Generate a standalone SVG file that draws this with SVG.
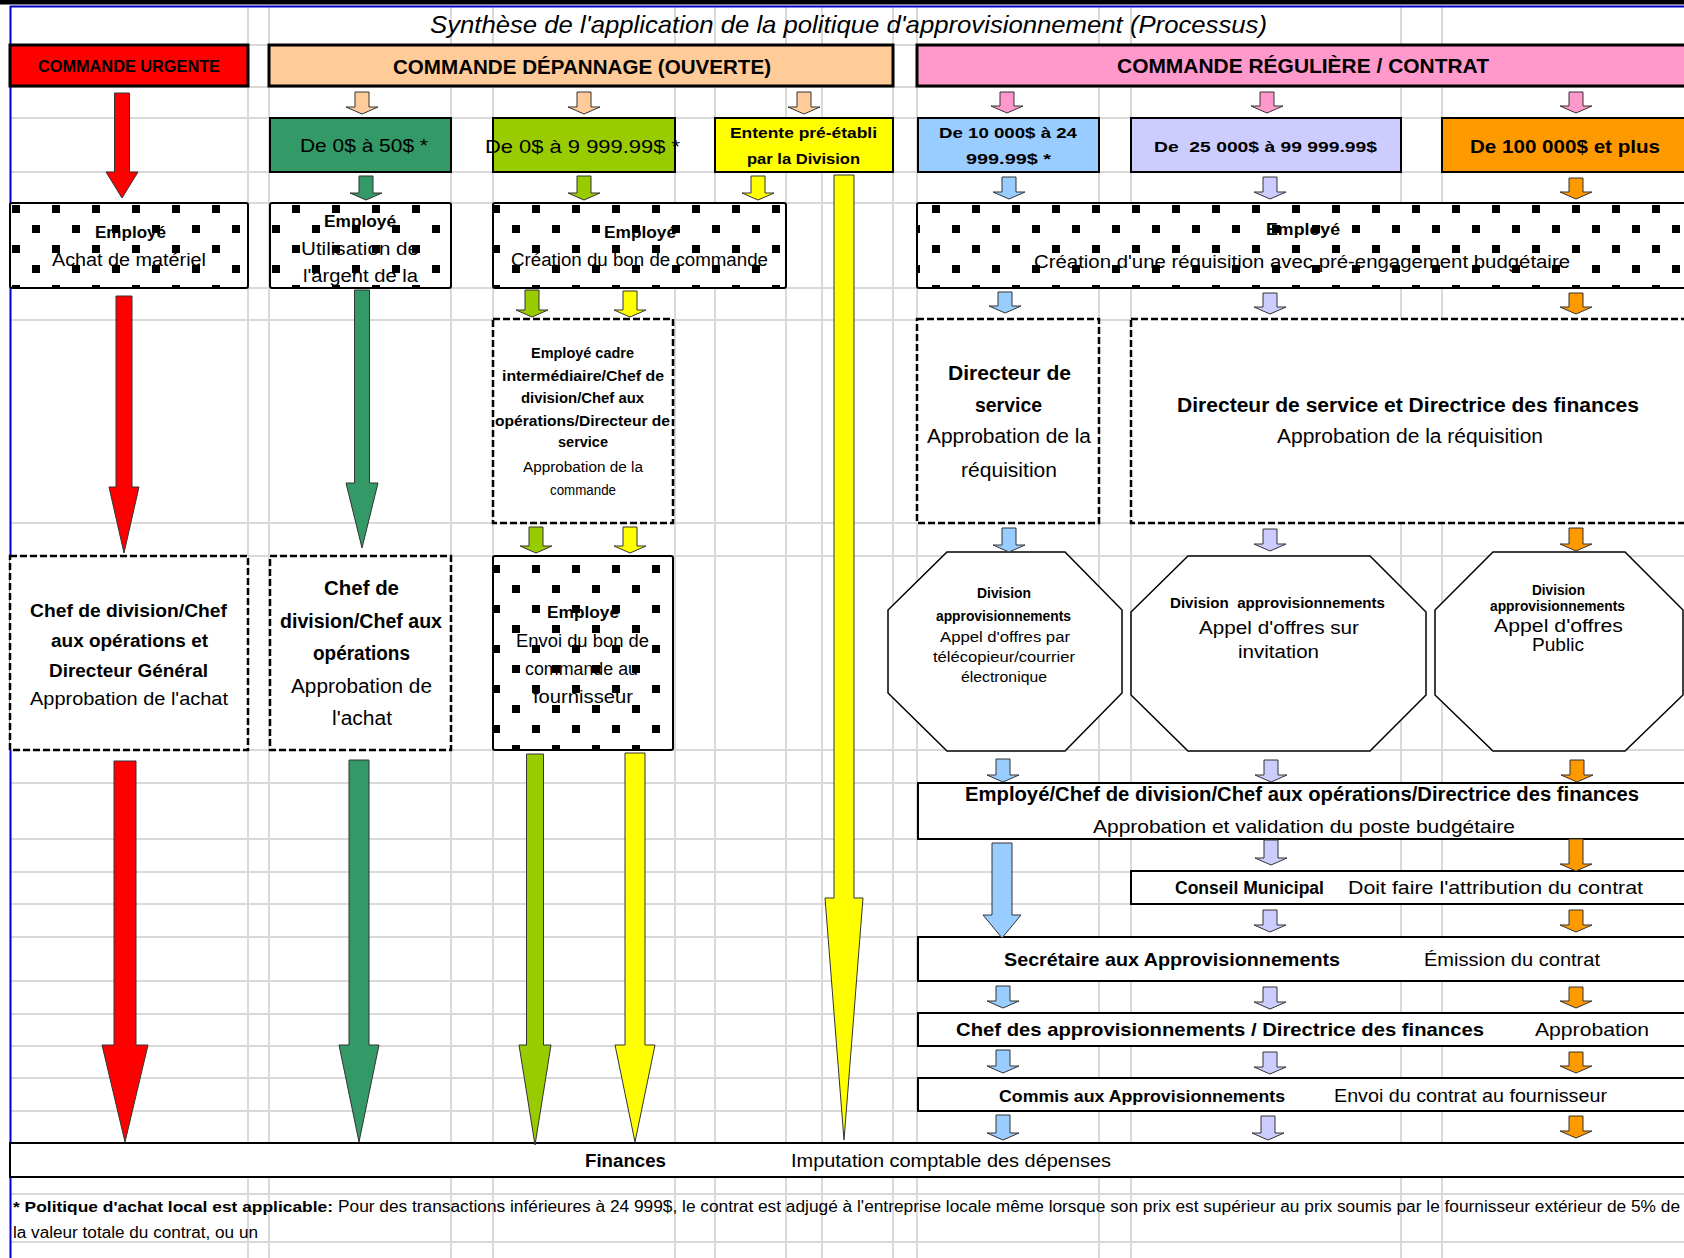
<svg xmlns="http://www.w3.org/2000/svg" width="1684" height="1258" viewBox="0 0 1684 1258">
<style>
.t{font-family:"Liberation Sans",Arial,sans-serif;fill:#000}
.b{font-weight:bold}
.grid line{stroke:#D9D9D9;stroke-width:2}
.hdr{stroke:#000;stroke-width:3}
.val{stroke:#000;stroke-width:2}
.box{fill:#fff;stroke:#000;stroke-width:2}
.dash{fill:#fff;stroke:#000;stroke-width:2.5;stroke-dasharray:7 3}
.chk{fill:url(#chk);stroke:#000;stroke-width:2}
.oct{fill:#fff;stroke:#000;stroke-width:1.5}
.a{stroke:#333;stroke-width:1;stroke-linejoin:miter}
.pe{fill:#FFCC99}.pk{fill:#FF99CC}.rd{fill:#FF0000}.gn{fill:#339966}.li{fill:#99CC00}.ye{fill:#FFFF00}.bl{fill:#99CCFF}.lv{fill:#CCCCFF}.or{fill:#FF9900}
</style>
<defs>
<pattern id="chk" patternUnits="userSpaceOnUse" x="12" y="5" width="40" height="40">
<rect width="40" height="40" fill="#fff"/>
<rect width="8" height="8" fill="#000"/>
<rect x="20" y="20" width="8" height="8" fill="#000"/>
</pattern>
</defs>
<rect width="1684" height="1258" fill="#fff"/>
<g class="grid">
<line x1="248" y1="7" x2="248" y2="1258"/><line x1="269" y1="7" x2="269" y2="1258"/>
<line x1="451" y1="7" x2="451" y2="1258"/><line x1="493" y1="7" x2="493" y2="1258"/>
<line x1="675" y1="7" x2="675" y2="1258"/><line x1="715" y1="7" x2="715" y2="1258"/>
<line x1="786" y1="7" x2="786" y2="1258"/><line x1="822" y1="7" x2="822" y2="1258"/>
<line x1="893" y1="7" x2="893" y2="1258"/><line x1="917" y1="7" x2="917" y2="1258"/>
<line x1="1099" y1="7" x2="1099" y2="1258"/><line x1="1131" y1="7" x2="1131" y2="1258"/>
<line x1="1401" y1="7" x2="1401" y2="1258"/><line x1="1442" y1="7" x2="1442" y2="1258"/>
<line x1="10" y1="45" x2="1684" y2="45"/><line x1="10" y1="87" x2="1684" y2="87"/>
<line x1="10" y1="118" x2="1684" y2="118"/><line x1="10" y1="172" x2="1684" y2="172"/>
<line x1="10" y1="203" x2="1684" y2="203"/><line x1="10" y1="288" x2="1684" y2="288"/>
<line x1="10" y1="320" x2="1684" y2="320"/><line x1="10" y1="523" x2="1684" y2="523"/>
<line x1="10" y1="556" x2="1684" y2="556"/><line x1="10" y1="750" x2="1684" y2="750"/>
<line x1="10" y1="783" x2="1684" y2="783"/><line x1="10" y1="839" x2="1684" y2="839"/>
<line x1="10" y1="872" x2="1684" y2="872"/><line x1="10" y1="904" x2="1684" y2="904"/>
<line x1="10" y1="937" x2="1684" y2="937"/><line x1="10" y1="981" x2="1684" y2="981"/>
<line x1="10" y1="1014" x2="1684" y2="1014"/><line x1="10" y1="1046" x2="1684" y2="1046"/>
<line x1="10" y1="1078" x2="1684" y2="1078"/><line x1="10" y1="1111" x2="1684" y2="1111"/>
<line x1="10" y1="1143" x2="1684" y2="1143"/><line x1="10" y1="1177" x2="1684" y2="1177"/>
<line x1="10" y1="1194" x2="1684" y2="1194"/><line x1="10" y1="1242" x2="1684" y2="1242"/>
</g>
<g id="frame">
<rect x="0" y="0" width="1684" height="4.5" fill="#000"/>
<line x1="10" y1="6.5" x2="1684" y2="6.5" stroke="#0000CC" stroke-width="2"/>
<line x1="10.5" y1="6" x2="10.5" y2="1258" stroke="#0000CC" stroke-width="2"/>
</g>
<g id="title"><text class="t" x="430" y="33" font-size="24" font-style="italic" textLength="837" lengthAdjust="spacingAndGlyphs">Synthèse de l'application de la politique d'approvisionnement (Processus)</text></g>

<g id="hdr-urgente"><rect class="hdr rd" x="10" y="45" width="238" height="41"/><text class="t b" x="38" y="72" font-size="17" textLength="182" lengthAdjust="spacingAndGlyphs">COMMANDE URGENTE</text></g>
<g id="hdr-depannage"><rect class="hdr pe" x="269" y="45" width="624" height="41"/><text class="t b" x="393" y="74" font-size="20" textLength="378" lengthAdjust="spacingAndGlyphs">COMMANDE DÉPANNAGE (OUVERTE)</text></g>
<g id="hdr-reguliere"><rect class="hdr pk" x="917" y="45" width="790" height="41"/><text class="t b" x="1117" y="73" font-size="20" textLength="372" lengthAdjust="spacingAndGlyphs">COMMANDE RÉGULIÈRE / CONTRAT</text></g>

<g id="v-0-50"><rect class="val gn" x="270" y="118" width="181" height="54"/><text class="t" x="300" y="152" font-size="19" textLength="128" lengthAdjust="spacingAndGlyphs">De 0$ à 50$ *</text></g>
<g id="v-0-9999"><rect class="val li" x="493" y="118" width="182" height="54"/><text class="t" x="485" y="153" font-size="19" textLength="195" lengthAdjust="spacingAndGlyphs">De 0$ à 9 999.99$ *</text></g>
<g id="v-entente"><rect class="val ye" x="715" y="118" width="178" height="54"/><text class="t b" x="730" y="138" font-size="15" textLength="147" lengthAdjust="spacingAndGlyphs">Entente pré-établi</text><text class="t b" x="747" y="164" font-size="15" textLength="113" lengthAdjust="spacingAndGlyphs">par la Division</text></g>
<g id="v-10000"><rect class="val bl" x="918" y="118" width="181" height="54"/><text class="t b" x="939" y="138" font-size="15" textLength="138" lengthAdjust="spacingAndGlyphs">De 10 000$ à 24</text><text class="t b" x="966" y="164" font-size="15" textLength="85" lengthAdjust="spacingAndGlyphs">999.99$ *</text></g>
<g id="v-25000"><rect class="val lv" x="1131" y="118" width="270" height="54"/><text class="t b" x="1154" y="152" font-size="15" textLength="223" lengthAdjust="spacingAndGlyphs" xml:space="preserve">De  25 000$ à 99 999.99$</text></g>
<g id="v-100000"><rect class="val or" x="1442" y="118" width="270" height="54"/><text class="t b" x="1470" y="153" font-size="19" textLength="190" lengthAdjust="spacingAndGlyphs">De 100 000$ et plus</text></g>

<g id="emp-achat"><rect class="chk" x="10" y="203" width="238" height="85" rx="2"/><text class="t b" x="95" y="238" font-size="16" textLength="71" lengthAdjust="spacingAndGlyphs">Employé</text><text class="t" x="52" y="266" font-size="18" textLength="154" lengthAdjust="spacingAndGlyphs">Achat de matériel</text></g>
<g id="emp-argent"><rect class="chk" x="270" y="203" width="181" height="85" rx="2"/><text class="t b" x="324" y="227" font-size="16" textLength="72" lengthAdjust="spacingAndGlyphs">Employé</text><text class="t" x="301" y="255" font-size="18" textLength="118" lengthAdjust="spacingAndGlyphs">Utilisation de</text><text class="t" x="303" y="282" font-size="18" textLength="115" lengthAdjust="spacingAndGlyphs">l'argent de la</text></g>
<g id="emp-bon"><rect class="chk" x="493" y="203" width="293" height="85" rx="2"/><text class="t b" x="604" y="238" font-size="16" textLength="72" lengthAdjust="spacingAndGlyphs">Employé</text><text class="t" x="511" y="266" font-size="18" textLength="257" lengthAdjust="spacingAndGlyphs">Création du bon de commande</text></g>
<g id="emp-requisition"><rect class="chk" x="917" y="203" width="790" height="85" rx="2"/><text class="t b" x="1266" y="235" font-size="16" textLength="74" lengthAdjust="spacingAndGlyphs">Employé</text><text class="t" x="1034" y="268" font-size="18" textLength="536" lengthAdjust="spacingAndGlyphs">Création d'une réquisition avec pré-engagement budgétaire</text></g>

<g id="cadre"><rect class="dash" x="493" y="319" width="180" height="204"/>
<text class="t b" x="531" y="358" font-size="14" textLength="103" lengthAdjust="spacingAndGlyphs">Employé cadre</text>
<text class="t b" x="502" y="381" font-size="14" textLength="162" lengthAdjust="spacingAndGlyphs">intermédiaire/Chef de</text>
<text class="t b" x="521" y="403" font-size="14" textLength="123" lengthAdjust="spacingAndGlyphs">division/Chef aux</text>
<text class="t b" x="495" y="426" font-size="14" textLength="175" lengthAdjust="spacingAndGlyphs">opérations/Directeur de</text>
<text class="t b" x="558" y="447" font-size="14" textLength="50" lengthAdjust="spacingAndGlyphs">service</text>
<text class="t" x="523" y="472" font-size="14" textLength="120" lengthAdjust="spacingAndGlyphs">Approbation de la</text>
<text class="t" x="550" y="495" font-size="14" textLength="66" lengthAdjust="spacingAndGlyphs">commande</text></g>

<g id="dir-service"><rect class="dash" x="917" y="319" width="182" height="204"/>
<text class="t b" x="948" y="380" font-size="20" textLength="123" lengthAdjust="spacingAndGlyphs">Directeur de</text>
<text class="t b" x="975" y="412" font-size="20" textLength="67" lengthAdjust="spacingAndGlyphs">service</text>
<text class="t" x="927" y="443" font-size="20" textLength="164" lengthAdjust="spacingAndGlyphs">Approbation de la</text>
<text class="t" x="961" y="477" font-size="20" textLength="96" lengthAdjust="spacingAndGlyphs">réquisition</text></g>

<g id="dir-finances"><rect class="dash" x="1131" y="319" width="580" height="204"/>
<text class="t b" x="1177" y="412" font-size="20" textLength="462" lengthAdjust="spacingAndGlyphs">Directeur de service et Directrice des finances</text>
<text class="t" x="1277" y="443" font-size="20" textLength="266" lengthAdjust="spacingAndGlyphs">Approbation de la réquisition</text></g>

<g id="chef-urgente"><rect class="dash" x="10" y="556" width="238" height="194"/>
<text class="t b" x="30" y="617" font-size="18" textLength="197" lengthAdjust="spacingAndGlyphs">Chef de division/Chef</text>
<text class="t b" x="51" y="647" font-size="18" textLength="157" lengthAdjust="spacingAndGlyphs">aux opérations et</text>
<text class="t b" x="49" y="677" font-size="18" textLength="159" lengthAdjust="spacingAndGlyphs">Directeur Général</text>
<text class="t" x="30" y="705" font-size="18" textLength="198" lengthAdjust="spacingAndGlyphs">Approbation de l'achat</text></g>

<g id="chef-depannage"><rect class="dash" x="270" y="556" width="181" height="194"/>
<text class="t b" x="324" y="595" font-size="20" textLength="75" lengthAdjust="spacingAndGlyphs">Chef de</text>
<text class="t b" x="280" y="628" font-size="20" textLength="162" lengthAdjust="spacingAndGlyphs">division/Chef aux</text>
<text class="t b" x="313" y="660" font-size="20" textLength="97" lengthAdjust="spacingAndGlyphs">opérations</text>
<text class="t" x="291" y="693" font-size="20" textLength="141" lengthAdjust="spacingAndGlyphs">Approbation de</text>
<text class="t" x="332" y="725" font-size="20" textLength="60" lengthAdjust="spacingAndGlyphs">l'achat</text></g>

<g id="emp-envoi"><rect class="chk" x="493" y="556" width="180" height="194" rx="2"/>
<text class="t b" x="547" y="618" font-size="16" textLength="72" lengthAdjust="spacingAndGlyphs">Employé</text>
<text class="t" x="516" y="647" font-size="18" textLength="133" lengthAdjust="spacingAndGlyphs">Envoi du bon de</text>
<text class="t" x="525" y="675" font-size="18" textLength="113" lengthAdjust="spacingAndGlyphs">commande au</text>
<text class="t" x="533" y="703" font-size="18" textLength="100" lengthAdjust="spacingAndGlyphs">fournisseur</text></g>

<g id="oct-telecopieur"><polygon class="oct" points="947,552 1065,552 1122,610 1122,693 1065,751 947,751 888,693 888,610"/>
<text class="t b" x="977" y="598" font-size="14" textLength="54" lengthAdjust="spacingAndGlyphs">Division</text>
<text class="t b" x="936" y="621" font-size="14" textLength="135" lengthAdjust="spacingAndGlyphs">approvisionnements</text>
<text class="t" x="940" y="642" font-size="14" textLength="130" lengthAdjust="spacingAndGlyphs">Appel d'offres par</text>
<text class="t" x="933" y="662" font-size="14" textLength="142" lengthAdjust="spacingAndGlyphs">télécopieur/courrier</text>
<text class="t" x="961" y="682" font-size="14" textLength="86" lengthAdjust="spacingAndGlyphs">électronique</text></g>

<g id="oct-invitation"><polygon class="oct" points="1188,556 1370,556 1426,612 1426,695 1370,751 1188,751 1131,695 1131,612"/>
<text class="t b" x="1170" y="608" font-size="15" textLength="215" lengthAdjust="spacingAndGlyphs" xml:space="preserve">Division  approvisionnements</text>
<text class="t" x="1199" y="634" font-size="18" textLength="160" lengthAdjust="spacingAndGlyphs">Appel d'offres sur</text>
<text class="t" x="1238" y="658" font-size="18" textLength="81" lengthAdjust="spacingAndGlyphs">invitation</text></g>

<g id="oct-public"><polygon class="oct" points="1493,552 1625,552 1683,610 1683,695 1625,751 1493,751 1435,695 1435,610"/>
<text class="t b" x="1532" y="595" font-size="14" textLength="53" lengthAdjust="spacingAndGlyphs">Division</text>
<text class="t b" x="1490" y="611" font-size="14" textLength="135" lengthAdjust="spacingAndGlyphs">approvisionnements</text>
<text class="t" x="1494" y="632" font-size="18" textLength="129" lengthAdjust="spacingAndGlyphs">Appel d'offres</text>
<text class="t" x="1532" y="651" font-size="18" textLength="52" lengthAdjust="spacingAndGlyphs">Public</text></g>

<g id="validation"><rect class="box" x="918" y="783" width="790" height="56"/>
<text class="t b" x="965" y="801" font-size="20" textLength="674" lengthAdjust="spacingAndGlyphs">Employé/Chef de division/Chef aux opérations/Directrice des finances</text>
<text class="t" x="1093" y="833" font-size="19" textLength="422" lengthAdjust="spacingAndGlyphs">Approbation et validation du poste budgétaire</text></g>

<g id="conseil"><rect class="box" x="1131" y="871" width="580" height="33"/>
<text class="t b" x="1175" y="894" font-size="18" textLength="149" lengthAdjust="spacingAndGlyphs">Conseil Municipal</text>
<text class="t" x="1348" y="894" font-size="19" textLength="295" lengthAdjust="spacingAndGlyphs">Doit faire l'attribution du contrat</text></g>

<g id="secretaire"><rect class="box" x="918" y="937" width="790" height="44"/>
<text class="t b" x="1004" y="966" font-size="19" textLength="336" lengthAdjust="spacingAndGlyphs">Secrétaire aux Approvisionnements</text>
<text class="t" x="1424" y="966" font-size="19" textLength="176" lengthAdjust="spacingAndGlyphs">Émission du contrat</text></g>

<g id="chef-appro"><rect class="box" x="918" y="1013" width="790" height="33"/>
<text class="t b" x="956" y="1036" font-size="19" textLength="528" lengthAdjust="spacingAndGlyphs">Chef des approvisionnements / Directrice des finances</text>
<text class="t" x="1535" y="1036" font-size="19" textLength="114" lengthAdjust="spacingAndGlyphs">Approbation</text></g>

<g id="commis"><rect class="box" x="918" y="1078" width="790" height="33"/>
<text class="t b" x="999" y="1102" font-size="17" textLength="286" lengthAdjust="spacingAndGlyphs">Commis aux Approvisionnements</text>
<text class="t" x="1334" y="1102" font-size="18" textLength="273" lengthAdjust="spacingAndGlyphs">Envoi du contrat au fournisseur</text></g>

<g id="finances"><rect class="box" x="10" y="1143" width="1700" height="34"/>
<text class="t b" x="585" y="1167" font-size="18" textLength="81" lengthAdjust="spacingAndGlyphs">Finances</text>
<text class="t" x="791" y="1167" font-size="18" textLength="320" lengthAdjust="spacingAndGlyphs">Imputation comptable des dépenses</text></g>

<g id="footnote">
<text class="t b" x="13" y="1212" font-size="15" textLength="320" lengthAdjust="spacingAndGlyphs">* Politique d'achat local est applicable:</text>
<text class="t" x="338" y="1212" font-size="16" textLength="1342" lengthAdjust="spacingAndGlyphs">Pour des transactions inférieures à 24 999$, le contrat est adjugé à l'entreprise locale même lorsque son prix est supérieur au prix soumis par le fournisseur extérieur de 5% de</text>
<text class="t" x="13" y="1238" font-size="16" textLength="245" lengthAdjust="spacingAndGlyphs">la valeur totale du contrat, ou un</text>
</g>

<g id="connectors">
<path class="a pe" d="M355,92h14v15h9l-16,7l-16,-7h9z"/>
<path class="a pe" d="M577,92h14v15h9l-16,7l-16,-7h9z"/>
<path class="a pe" d="M797,92h14v15h9l-16,7l-16,-7h9z"/>
<path class="a pk" d="M1000,92h14v14h9l-16,7l-16,-7h9z"/>
<path class="a pk" d="M1260,92h14v14h9l-16,7l-16,-7h9z"/>
<path class="a pk" d="M1569,92h14v14h9l-16,7l-16,-7h9z"/>
<path class="a gn" d="M359,176h14v17h9l-16,7l-16,-7h9z"/>
<path class="a li" d="M577,176h14v17h9l-16,7l-16,-7h9z"/>
<path class="a ye" d="M751,176h14v17h9l-16,7l-16,-7h9z"/>
<path class="a bl" d="M1002,177h14v15h9l-16,7l-16,-7h9z"/>
<path class="a lv" d="M1263,177h14v15h9l-16,7l-16,-7h9z"/>
<path class="a or" d="M1569,178h14v14h9l-16,7l-16,-7h9z"/>
<path class="a li" d="M525,290h14v20h9l-16,7l-16,-7h9z"/>
<path class="a ye" d="M623,291h14v19h9l-16,7l-16,-7h9z"/>
<path class="a bl" d="M998,292h14v14h9l-16,7l-16,-7h9z"/>
<path class="a lv" d="M1263,293h14v14h9l-16,7l-16,-7h9z"/>
<path class="a or" d="M1569,293h14v14h9l-16,7l-16,-7h9z"/>
<path class="a li" d="M529,527h14v19h9l-16,7l-16,-7h9z"/>
<path class="a ye" d="M623,527h14v19h9l-16,7l-16,-7h9z"/>
<path class="a bl" d="M1002,528h14v17h9l-16,7l-16,-7h9z"/>
<path class="a lv" d="M1263,529h14v15h9l-16,7l-16,-7h9z"/>
<path class="a or" d="M1569,528h14v16h9l-16,7l-16,-7h9z"/>
<path class="a bl" d="M996,759h14v16h9l-16,7l-16,-7h9z"/>
<path class="a lv" d="M1264,760h14v15h9l-16,7l-16,-7h9z"/>
<path class="a or" d="M1570,760h14v15h9l-16,7l-16,-7h9z"/>
<path class="a lv" d="M1264,840h14v18h9l-16,7l-16,-7h9z"/>
<path class="a or" d="M1569,839h14v25h9l-16,7l-16,-7h9z"/>
<path class="a lv" d="M1263,910h14v15h9l-16,7l-16,-7h9z"/>
<path class="a or" d="M1569,910h14v15h9l-16,7l-16,-7h9z"/>
<path class="a bl" d="M996,986h14v15h9l-16,7l-16,-7h9z"/>
<path class="a lv" d="M1263,987h14v15h9l-16,7l-16,-7h9z"/>
<path class="a or" d="M1569,987h14v14h9l-16,7l-16,-7h9z"/>
<path class="a bl" d="M996,1050h14v16h9l-16,7l-16,-7h9z"/>
<path class="a lv" d="M1263,1052h14v15h9l-16,7l-16,-7h9z"/>
<path class="a or" d="M1569,1052h14v14h9l-16,7l-16,-7h9z"/>
<path class="a bl" d="M996,1115h14v18h9l-16,7l-16,-7h9z"/>
<path class="a lv" d="M1261,1116h14v17h9l-16,7l-16,-7h9z"/>
<path class="a or" d="M1569,1116h14v15h9l-16,7l-16,-7h9z"/>
<path class="a rd" d="M114.5,93H129.5V172H138L122,198L106,172H114.5Z"/>
<path class="a rd" d="M116,296H132V487H139L124,553L109,487H116Z"/>
<path class="a rd" d="M114,761H136V1045H148L125,1142L102,1045H114Z"/>
<path class="a gn" d="M354.5,290H369.5V483H378L362,548L346,483H354.5Z"/>
<path class="a gn" d="M349,760H369V1045H379L359,1142L339,1045H349Z"/>
<path class="a li" d="M526.5,754H543.5V1045H551L535,1145L519,1045H526.5Z"/>
<path class="a ye" d="M625,753H645V1045H655L635,1142L615,1045H625Z"/>
<path class="a ye" d="M834,175H854V898H863L844,1140L825,898H834Z"/>
<path class="a bl" d="M992,843H1012V915H1021L1002,938L983,915H992Z"/>
</g>
</svg>
